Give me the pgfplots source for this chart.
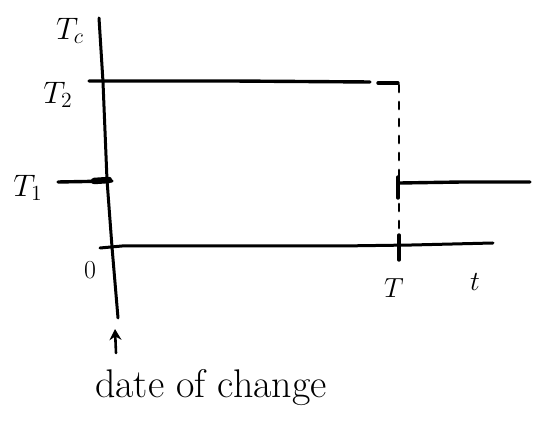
\documentclass[border=0pt]{standalone}
\usepackage{graphicx}
\usepackage{pgfplots}
\pgfplotsset{compat=1.18}
\usetikzlibrary{arrows.meta}

% labels: \LARGE (20.74pt) scaled up to handwriting size
\newcommand{\lbl}[2]{\scalebox{#1}{\LARGE #2}}

% Coordinates are in drawing units: the time axis starts at 0, the
% change ends at T = 286; levels are T_1 = 62 and T_2 = 164.
\begin{document}
\begin{tikzpicture}
\begin{axis}[
  scale only axis,
  width=539pt, height=428pt,
  xmin=-112, xmax=427,
  ymin=-183, ymax=245,
  axis lines=none,
  clip=false,
  no markers,
  cycle list={{black}},
  pen/.style={black, no markers, line width=3.4pt, line cap=round, line join=round},
]
% bounding frame of the sketch
\path (rel axis cs:0,0) rectangle (rel axis cs:1,1);

% vertical axis (T_c)
\addplot[pen, line width=3pt] coordinates {(-13,227) (-9,163) (-5,65) (0,-2) (6,-73)};
% horizontal axis (t)
\addplot[pen, line width=3pt] coordinates {(-12,-3) (10,-1) (228,-1) (300,0) (381,2)};

% level T_2 up to the end of the change
\addplot[pen] coordinates {(-23,164) (120,164) (258,163)};
\addplot[pen] coordinates {(266,162) (286,162)};
% drop back at T
\addplot[pen, line width=2.8pt, dash pattern=on 7pt off 10pt] coordinates {(287,160) (287,4)};
\addplot[pen] coordinates {(287,10) (287,-15)};
% level T_1 after T
\addplot[pen] coordinates {(286,68) (286,47)};
\addplot[pen] coordinates {(288,62) (350,63) (418,63)};
% T_1 tick on the vertical axis
\addplot[pen] coordinates {(-54,63) (0,64)};
\addplot[pen, line width=6.5pt] coordinates {(-18,64) (-3,65)};

% arrow to the date of change
\addplot[pen, line width=2.6pt, -{Stealth[length=11pt,width=12pt]}] coordinates {(4,-108) (3,-84)};

% labels
\node at (axis cs:-42,214) {\lbl{1.8}{$T_c$}};
\node at (axis cs:-54,150) {\lbl{1.8}{$T_2$}};
\node at (axis cs:-84,57) {\lbl{1.8}{$T_1$}};
\node at (axis cs:-22,-25) {\lbl{1.5}{$0$}};
\node at (axis cs:282,-43) {\lbl{1.6}{$T$}};
\node at (axis cs:363,-37) {\lbl{1.6}{$t$}};
\node[font=\fontsize{40}{46}\selectfont] at (axis cs:99,-143) {date of change};
\end{axis}
\end{tikzpicture}
\end{document}
